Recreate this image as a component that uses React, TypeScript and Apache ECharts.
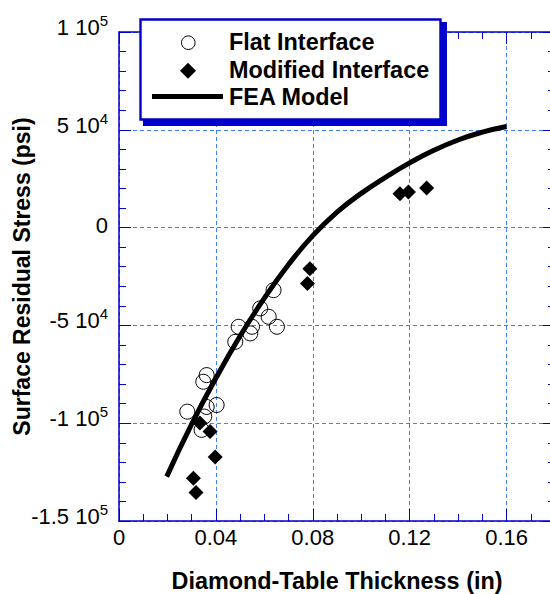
import React, { useEffect, useRef } from 'react';
import * as echarts from 'echarts';

// Flat Interface (open circles)
const flatX = [0.0362, 0.0348, 0.0403, 0.0282, 0.0362, 0.0352, 0.0341, 0.0638, 0.0583, 0.0618, 0.0652, 0.0494, 0.0549, 0.0542, 0.0480];
const flatY = [-75400, -78800, -90700, -94100, -91700, -96600, -103400, -32000, -41300, -45600, -50700, -50700, -50700, -54100, -58400];

// Modified Interface (filled diamonds)
const modX = [0.0334, 0.0376, 0.0397, 0.0307, 0.0318, 0.0788, 0.0778, 0.116, 0.1195, 0.127];
const modY = [-99900, -104300, -117300, -128100, -135400, -21000, -28600, 17300, 18200, 20200];

// FEA Model curve
const feaX = [0.0197, 0.03, 0.04, 0.05, 0.06, 0.07, 0.08, 0.09, 0.10, 0.11, 0.12, 0.13, 0.14, 0.15, 0.16];
const feaY = [-127300, -100500, -77000, -55400, -36100, -18900, -4100, 7900, 17500, 25700, 33100, 39500, 44800, 48800, 51700];

// Tick labels
const xTickValues = [0, 0.04, 0.08, 0.12, 0.16];
const xTickLabels = ['0', '0.04', '0.08', '0.12', '0.16'];
const yTickValues = [100000, 50000, 0, -50000, -100000, -150000];
const yTickMantissa = ['1 10', '5 10', '0', '-5 10', '-1 10', '-1.5 10'];
const yTickExponent = ['5', '4', '', '4', '5', '5'];

const legendLabels = ['Flat Interface', 'Modified Interface', 'FEA Model'];
const xTitle = 'Diamond-Table Thickness (in)';
const yTitle = 'Surface Residual Stress (psi)';

const AXIS_BLUE = '#0000cc';
const GRID_BLUE = '#3f7fff';
const FONT = '"Liberation Sans", Arial, Helvetica, sans-serif';

export default function App() {
  const ref = useRef<HTMLDivElement>(null);
  useEffect(() => {
    const chart = echarts.init(ref.current!, null, { renderer: 'svg' });
    const X_MIN = 0, X_MAX = 0.18, Y_MIN = -150000, Y_MAX = 100000;

    const baseX = { type: 'value', min: X_MIN, max: X_MAX, gridIndex: 0 } as any;
    const baseY = { type: 'value', min: Y_MIN, max: Y_MAX, gridIndex: 0, interval: 50000 } as any;
    const lineOn = { show: true, onZero: false, lineStyle: { color: AXIS_BLUE, width: 1.5 } };
    const lineOff = { show: false, onZero: false };
    const majorTick = { show: true, inside: true, length: 12, lineStyle: { color: AXIS_BLUE, width: 1 } };
    const minorTickStyle = { show: true, inside: true, length: 7, lineStyle: { color: AXIS_BLUE, width: 1 } };

    const xFmt = (v: number) => {
      const i = xTickValues.findIndex((t) => Math.abs(t - v) < 1e-9);
      return i >= 0 ? xTickLabels[i] : '';
    };
    const yFmt = (v: number) => {
      const i = yTickValues.findIndex((t) => Math.abs(t - v) < 1e-6);
      if (i < 0) return '';
      if (!yTickExponent[i]) return `{z|${yTickMantissa[i]}}`;
      return `{m|${yTickMantissa[i]}}{s|${yTickExponent[i]}}`;
    };

    const legendText = { fontSize: 23.4, fontWeight: 'bold', fontFamily: FONT, fill: '#000', verticalAlign: 'middle' };

    chart.setOption({
      animation: false,
      backgroundColor: '#fff',
      grid: { left: 119, top: 32, width: 436, height: 489, containLabel: false, outerBoundsMode: 'none' },
      xAxis: [
        {
          ...baseX,
          position: 'bottom',
          interval: 0.04,
          axisLine: lineOn,
          axisTick: majorTick,
          axisLabel: { show: true, formatter: xFmt, margin: 5, fontSize: 22, color: '#000', fontFamily: FONT },
          splitLine: { show: true, lineStyle: { color: GRID_BLUE, type: [4, 3], width: 1 } },
          name: xTitle,
          nameLocation: 'middle',
          nameGap: 50,
          nameMoveOverlap: false,
          nameTextStyle: { fontSize: 23.4, lineHeight: 20, fontWeight: 'bold', color: '#000', fontFamily: FONT },
        },
        {
          ...baseX,
          position: 'bottom',
          interval: 0.01,
          axisLine: lineOff,
          axisTick: minorTickStyle,
          axisLabel: { show: false },
          splitLine: { show: false },
        },
        {
          ...baseX,
          position: 'top',
          interval: 0.04,
          axisLine: lineOn,
          axisTick: majorTick,
          axisLabel: { show: false },
          splitLine: { show: false },
        },
        {
          ...baseX,
          position: 'top',
          interval: 0.01,
          axisLine: lineOff,
          axisTick: minorTickStyle,
          axisLabel: { show: false },
          splitLine: { show: false },
        },
      ],
      yAxis: [
        {
          ...baseY,
          position: 'left',
          axisLine: lineOn,
          axisTick: majorTick,
          minorTick: { show: true, splitNumber: 5, length: 7, lineStyle: { color: AXIS_BLUE, width: 1 } },
          axisLabel: {
            show: true,
            formatter: yFmt,
            margin: 11,
            color: '#000',
            fontFamily: FONT,
            padding: [0, 0, 16, 0],
            rich: {
              m: { fontSize: 22, lineHeight: 22, fontFamily: FONT, color: '#000', verticalAlign: 'top', padding: [3.5, 0, 0, 0] },
              s: { fontSize: 15, lineHeight: 8, fontFamily: FONT, color: '#000', verticalAlign: 'top' },
              z: { fontSize: 22, lineHeight: 22, fontFamily: FONT, color: '#000', verticalAlign: 'top', padding: [5.7, 0, 0, 0] },
            },
          },
          splitLine: { show: true, lineStyle: { color: GRID_BLUE, type: [4, 3], width: 1 } },
          name: yTitle,
          nameLocation: 'middle',
          nameGap: 86,
          nameMoveOverlap: false,
          nameTextStyle: { fontSize: 23, fontWeight: 'bold', color: '#000', fontFamily: FONT },
        },
        {
          ...baseY,
          position: 'right',
          axisLine: lineOn,
          axisTick: majorTick,
          minorTick: { show: true, splitNumber: 5, length: 7, lineStyle: { color: AXIS_BLUE, width: 1 } },
          axisLabel: { show: false },
          splitLine: { show: false },
        },
      ],
      series: [
        {
          name: legendLabels[0],
          type: 'scatter',
          xAxisIndex: 0,
          yAxisIndex: 0,
          symbol: 'circle',
          symbolSize: 15,
          itemStyle: { color: 'rgba(0,0,0,0)', borderColor: '#000', borderWidth: 1, opacity: 1 },
          data: flatX.map((x, i) => [x, flatY[i]]),
          z: 3,
        },
        {
          name: legendLabels[1],
          type: 'scatter',
          xAxisIndex: 0,
          yAxisIndex: 0,
          symbol: 'diamond',
          symbolSize: 15,
          itemStyle: { color: '#000', opacity: 1 },
          data: modX.map((x, i) => [x, modY[i]]),
          z: 4,
        },
        {
          name: legendLabels[2],
          type: 'line',
          xAxisIndex: 0,
          yAxisIndex: 0,
          smooth: 0.5,
          symbol: 'none',
          showSymbol: false,
          lineStyle: { color: '#000', width: 5 },
          data: feaX.map((x, i) => [x, feaY[i]]),
          z: 5,
        },
      ],
      graphic: [
        {
          type: 'group',
          z: 100,
          children: [
            { type: 'rect', shape: { x: 143, y: 22, width: 304, height: 104 }, style: { fill: AXIS_BLUE }, z: 100 },
            { type: 'rect', shape: { x: 140.5, y: 19.5, width: 300, height: 100 }, style: { fill: '#fff', stroke: AXIS_BLUE, lineWidth: 2.4 }, z: 101 },
            { type: 'circle', shape: { cx: 188.3, cy: 42.7, r: 6.8 }, style: { fill: '#fff', stroke: '#000', lineWidth: 1 }, z: 102 },
            { type: 'polygon', shape: { points: [[188, 62.7], [196, 70.7], [188, 78.7], [180, 70.7]] }, style: { fill: '#000' }, z: 102 },
            { type: 'line', shape: { x1: 152, y1: 96.6, x2: 223, y2: 96.6 }, style: { stroke: '#000', lineWidth: 5 }, z: 102 },
            { type: 'text', x: 229, y: 42, style: { ...legendText, text: legendLabels[0] }, z: 102 },
            { type: 'text', x: 229, y: 70, style: { ...legendText, text: legendLabels[1] }, z: 102 },
            { type: 'text', x: 229, y: 97, style: { ...legendText, text: legendLabels[2] }, z: 102 },
          ],
        },
      ],
    });
    return () => chart.dispose();
  }, []);
  return <div ref={ref} style={{ position: 'fixed', left: 0, top: 0, width: 550, height: 594 }} />;
}
